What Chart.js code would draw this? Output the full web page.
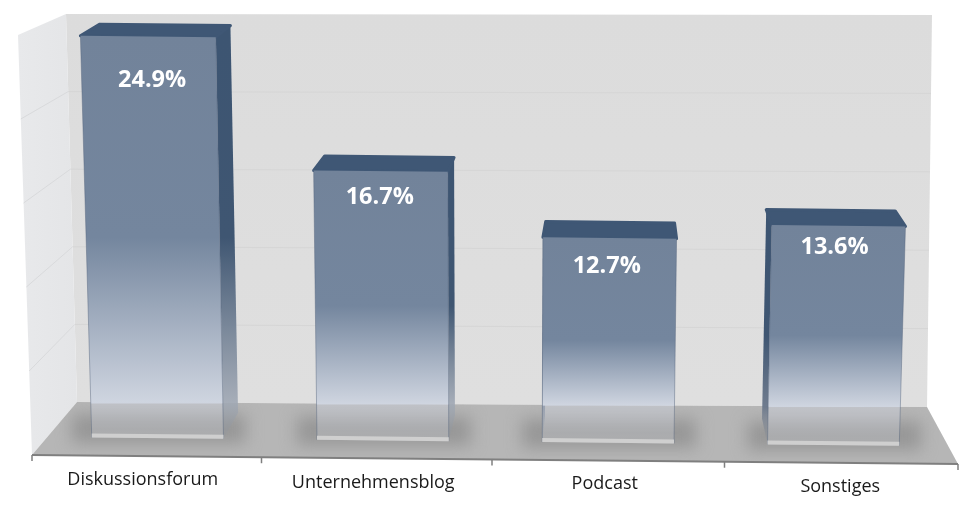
<!DOCTYPE html>
<html>
<head>
<meta charset="utf-8">
<style>
  html, body { margin: 0; padding: 0; background: #fff; }
  canvas { display: block; }
</style>
<script src="https://cdn.jsdelivr.net/npm/chart.js@4"></script>
</head>
<body>
<canvas id="chart" width="974" height="517"></canvas>
<script>
// data
const categories = ["Diskussionsforum", "Unternehmensblog", "Podcast", "Sonstiges"];
const shares = [24.9, 16.7, 12.7, 13.6];
const yTicks = [0, 5, 10, 15, 20, 25];

// label placement, the picture nudges each one a bit
const valueLabelDrop = [44, 26, 28, 22];
const valueLabelShift = [4, -1, -3, -4];
const categoryLabelShift = [-5, -6, -6, -2];
const categoryLabelY = [480, 483, 484, 487];
const axisTickShift = [0, -2, -3, -2, 0];

// 3d box around the plot
const wallTL = [66, 14], wallTR = [932, 15], wallBR = [927, 407], wallBL = [77, 402];
const sideTL = [18, 35], sideBL = [32, 455];
const floorFR = [958, 464];

const TAPER = 0.00007;  // bars lean away from the middle
const TILT = 0.0103;    // whole picture falls slightly to the right

function lerp(a, b, f) { return a + (b - a) * f; }

function poly(ctx, pts) {
  ctx.beginPath();
  pts.forEach((p, i) => (i ? ctx.lineTo(p[0], p[1]) : ctx.moveTo(p[0], p[1])));
  ctx.closePath();
}

// bar plane -> screen
function project(chart, px, py) {
  const { left, bottom } = chart.chartArea;
  return [px + TAPER * (px - 495) * (bottom - py), py + TILT * (px - left)];
}

// bar plane x -> front edge of the floor
function frontX(chart, px) {
  const { left, right } = chart.chartArea;
  return lerp(sideBL[0], floorFR[0], (px - left) / (right - left));
}

const box3d = {
  id: "box3d",
  beforeDraw(chart) {
    const { ctx } = chart;
    const y = chart.scales.y;
    ctx.save();

    const wall = ctx.createLinearGradient(0, wallTL[1], 0, wallBL[1]);
    wall.addColorStop(0, "#dcdcdc");
    wall.addColorStop(1, "#dfdfdf");
    poly(ctx, [wallTL, wallTR, wallBR, wallBL]);
    ctx.fillStyle = wall;
    ctx.fill();

    const side = ctx.createLinearGradient(sideTL[0], 0, wallBL[0], 0);
    side.addColorStop(0, "#e8e9eb");
    side.addColorStop(1, "#e4e5e7");
    poly(ctx, [sideTL, wallTL, wallBL, sideBL]);
    ctx.fillStyle = side;
    ctx.fill();

    // grid lines, walls are a bit shorter than the bar plane
    ctx.lineWidth = 1;
    yTicks.forEach((v) => {
      const f = v / yTicks[yTicks.length - 1];
      if (v === 0 || f === 1) return;
      const bl = [lerp(wallBL[0], wallTL[0], f), lerp(wallBL[1], wallTL[1], f)];
      const br = [lerp(wallBR[0], wallTR[0], f), lerp(wallBR[1], wallTR[1], f)];
      const fl = [lerp(sideBL[0], sideTL[0], f), lerp(sideBL[1], sideTL[1], f)];
      ctx.strokeStyle = "#d6d6d6";
      ctx.beginPath();
      ctx.moveTo(bl[0], bl[1]);
      ctx.lineTo(br[0], br[1]);
      ctx.stroke();
      ctx.strokeStyle = "#d9dadc";
      ctx.beginPath();
      ctx.moveTo(fl[0], fl[1]);
      ctx.lineTo(bl[0], bl[1]);
      ctx.stroke();
    });

    // floor
    const floorPts = [wallBL, wallBR, floorFR, sideBL];
    poly(ctx, floorPts);
    ctx.fillStyle = "#b6b6b6";
    ctx.fill();

    // soft shadows under the bars
    ctx.save();
    poly(ctx, floorPts);
    ctx.clip();
    ctx.filter = "blur(8px)";
    ctx.fillStyle = "#979797";
    chart.getDatasetMeta(0).data.forEach((bar) => {
      const l = bar.x - bar.width / 2;
      const base = project(chart, bar.x, y.getPixelForValue(0))[1];
      ctx.fillRect(l - 20, base - 24, bar.width + 42, 29);
    });
    ctx.restore();

    // axis line and ticks on the front edge
    ctx.strokeStyle = "#7f7f7f";
    ctx.lineWidth = 2;
    ctx.beginPath();
    ctx.moveTo(sideBL[0], sideBL[1]);
    ctx.lineTo(floorFR[0], floorFR[1]);
    ctx.stroke();
    ctx.lineWidth = 1.5;
    const x = chart.scales.x;
    const step = x.getPixelForValue(1) - x.getPixelForValue(0);
    for (let i = 0; i <= categories.length; i++) {
      const tx = frontX(chart, x.getPixelForValue(0) + (i - 0.5) * step) + axisTickShift[i];
      const ty = lerp(sideBL[1], floorFR[1], (tx - sideBL[0]) / (floorFR[0] - sideBL[0]));
      ctx.beginPath();
      ctx.moveTo(tx, ty);
      ctx.lineTo(tx, ty + 6);
      ctx.stroke();
    }
    ctx.restore();
  },

  // the bars get drawn here as boxes instead of flat rectangles
  beforeDatasetDraw(chart, args) {
    const { ctx } = chart;
    const bottom = chart.chartArea.bottom;
    args.meta.data.forEach((bar) => {
      const l = bar.x - bar.width / 2, r = bar.x + bar.width / 2;
      const tl = project(chart, l, bar.y), tr = project(chart, r, bar.y);
      const bl = project(chart, l, bottom), br = project(chart, r, bottom);
      const top = Math.min(tl[1], tr[1]), base = Math.max(bl[1], br[1]);
      const floorF = Math.min(0.97, (lerp(wallBL[1], wallBR[1], (bar.x - wallBL[0]) / (wallBR[0] - wallBL[0])) - top) / (base - top));

      // depth of the box goes to a vanishing point right of the middle
      const depthX = (px) => (620 - px) * 0.036;
      const depthY = 11 + 0.02 * top;

      ctx.save();

      // side face, only one of them is visible
      const rightSide = depthX(r) > 0;
      const sideG = ctx.createLinearGradient(0, top, 0, base);
      sideG.addColorStop(0, "#3d5572");
      sideG.addColorStop(0.5, "#3f5672");
      sideG.addColorStop(floorF, rightSide ? "rgba(160,168,180,0.9)" : "rgba(105,118,138,0.95)");
      sideG.addColorStop(1, "rgba(140,145,152,0.2)");
      ctx.fillStyle = sideG;
      const e = rightSide ? [tr, br] : [tl, bl];
      const dx = depthX(e[0][0]);
      poly(ctx, [e[0], [e[0][0] + dx, e[0][1] - depthY], [e[1][0] + dx, e[1][1] - 26], e[1]]);
      ctx.fill();

      // top face
      const topPts = [tl, [tl[0] + depthX(tl[0]), tl[1] - depthY], [tr[0] + depthX(tr[0]), tr[1] - depthY], tr];
      poly(ctx, topPts);
      ctx.lineJoin = "round";
      ctx.lineWidth = 3;
      ctx.strokeStyle = ctx.fillStyle = "#3f5775";
      ctx.fill();
      ctx.stroke();

      // front face, fades out and gets see-through on the floor
      const g = ctx.createLinearGradient(0, top, 0, base);
      g.addColorStop(0, "#72839a");
      g.addColorStop(0.5, "#74869e");
      g.addColorStop(floorF, "rgba(207,213,224,1)");
      g.addColorStop(Math.min(0.99, floorF + 0.005), "rgba(205,210,222,0.45)");
      g.addColorStop(1, "rgba(200,202,206,0.35)");
      poly(ctx, [tl, tr, br, bl]);
      ctx.fillStyle = g;
      ctx.fill();

      ctx.strokeStyle = "rgba(85,100,125,0.45)";
      ctx.lineWidth = 1;
      ctx.beginPath();
      ctx.moveTo(tl[0], tl[1]); ctx.lineTo(bl[0], bl[1]);
      ctx.moveTo(tr[0], tr[1]); ctx.lineTo(br[0], br[1]);
      ctx.stroke();

      // light strip along the bottom
      poly(ctx, [[bl[0], bl[1] - 4], [br[0], br[1] - 4], br, bl]);
      ctx.fillStyle = "#cfcfcf";
      ctx.fill();

      ctx.restore();
    });
    return false;
  },

  afterDatasetsDraw(chart) {
    const { ctx } = chart;
    const x = chart.scales.x;
    ctx.save();
    ctx.textAlign = "center";
    ctx.textBaseline = "middle";

    ctx.font = '700 23.5px "Open Sans"';
    ctx.fillStyle = "#fff";
    chart.getDatasetMeta(0).data.forEach((bar, i) => {
      const p = project(chart, bar.x, bar.y);
      ctx.fillText(shares[i].toFixed(1) + "%", p[0] + valueLabelShift[i], p[1] + valueLabelDrop[i]);
    });

    ctx.font = '18px "Open Sans"';
    ctx.fillStyle = "#1a1a1a";
    categories.forEach((c, i) => {
      ctx.fillText(c, frontX(chart, x.getPixelForValue(i)) + categoryLabelShift[i], categoryLabelY[i]);
    });
    ctx.restore();
  },
};

new Chart(document.getElementById("chart"), {
  type: "bar",
  data: {
    labels: categories,
    datasets: [{ data: shares, backgroundColor: "#72839a", categoryPercentage: 1, barPercentage: 0.585 }],
  },
  options: {
    responsive: false,
    animation: false,
    layout: { padding: { left: 45, right: 28, top: 33.75, bottom: 80 } },
    plugins: { legend: { display: false }, tooltip: { enabled: false } },
    scales: {
      x: { display: false },
      y: { display: false, min: 0, max: 25, ticks: { stepSize: 5 } },
    },
  },
  plugins: [box3d],
});
</script>
</body>
</html>
